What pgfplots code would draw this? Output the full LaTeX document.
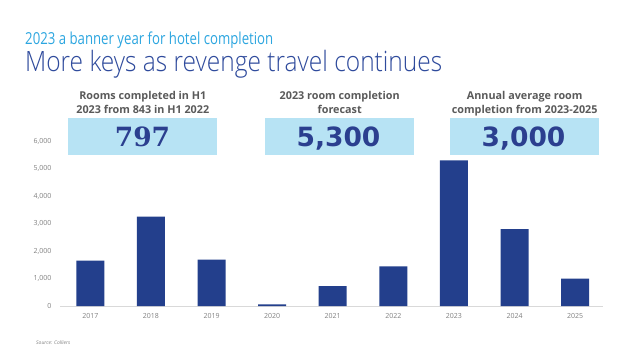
\documentclass[border=0pt]{standalone}
\usepackage{fontspec}
\setmainfont{Open Sans}
\newfontfamily\serifnum{DejaVu Serif}
\newfontfamily\sansnum{DejaVu Sans}
\newfontfamily\titlefont{Open Sans Light}[FakeStretch=0.875]
\newfontfamily\subfont{Open Sans}[FakeStretch=0.8]
\usepackage{pgfplots}
\pgfplotsset{compat=1.18}
\definecolor{barblue}{HTML}{233F8C}
\definecolor{numblue}{HTML}{2B3F8F}
\definecolor{boxblue}{HTML}{B7E3F4}
\definecolor{titlelight}{HTML}{2CA6E0}
\definecolor{titledark}{HTML}{2E4A9C}
\definecolor{labgray}{HTML}{5A5A5A}
\definecolor{tickgray}{HTML}{808080}
\begin{document}
\begin{tikzpicture}[x=1pt,y=1pt]
\path[use as bounding box, fill=white] (0,0) rectangle (640,360);
\begin{axis}[
  at={(60pt,54pt)}, anchor=south west,
  scale only axis, width=543pt, height=165pt,
  xmin=-0.5, xmax=8.46, ymin=0, ymax=6000,
  axis lines*=left,
  y axis line style={draw=none},
  x axis line style={draw=gray!30, line width=0.8pt},
  tick style={draw=none},
  major tick length=0pt,
  ytick={0,1000,2000,3000,4000,5000,6000},
  scaled y ticks=false,
  /pgf/number format/assume math mode=true,
  /pgf/number format/1000 sep={,},
  yticklabel style={font=\fontsize{7}{8}\selectfont, text=tickgray, xshift=-5pt},
  xtick=data,
  xticklabels={2017,2018,2019,2020,2021,2022,2023,2024,2025},
  xticklabel style={font=\fontsize{7}{8}\selectfont, text=tickgray, yshift=-4pt},
  ybar, bar width=28pt,
  clip=false,
]
\addplot[fill=barblue, draw=none] coordinates {
  (0,1650) (1,3250) (2,1690) (3,60) (4,720) (5,1440) (6,5300) (7,2800) (8,1000)
};
\end{axis}
% titles
\node[anchor=base west, inner sep=0, text=titlelight, font=\subfont\fontsize{16.5}{19}\selectfont] at (25,316) {2023 a banner year for hotel completion};
\node[anchor=base west, inner sep=0, text=titledark, font=\titlefont\fontsize{28}{32}\selectfont] at (25,288.5) {More keys as revenge travel continues};
% boxes
\fill[boxblue] (68.3,205) rectangle (217.3,242.3);
\fill[boxblue] (265,205) rectangle (414.3,242.3);
\fill[boxblue] (450,205) rectangle (599.3,242.3);
\node[anchor=base, inner sep=0, text=numblue, font=\serifnum\bfseries\fontsize{26.5}{29}\selectfont] at (142.5,213.3) {797};
\node[anchor=base, inner sep=0, text=numblue, font=\sansnum\bfseries\fontsize{26.5}{29}\selectfont] at (338.5,213.3) {5,300};
\node[anchor=base, inner sep=0, text=numblue, font=\sansnum\bfseries\fontsize{26.5}{29}\selectfont] at (523.5,213.3) {3,000};
% headers
\tikzset{hdr/.style={anchor=base, inner sep=0, text=labgray, font=\bfseries\fontsize{10.8}{12}\selectfont}}
\node[hdr] at (142.8,261) {Rooms completed in H1};
\node[hdr] at (142.8,246.7) {2023 from 843 in H1 2022};
\node[hdr] at (339.7,261) {2023 room completion};
\node[hdr] at (339.7,246.7) {forecast};
\node[hdr] at (524.7,261) {Annual average room};
\node[hdr] at (524.7,246.7) {completion from 2023-2025};
% source
\node[anchor=base west, inner sep=0, text=tickgray, font=\itshape\fontsize{5}{6}\selectfont] at (36,16) {Source: Colliers};
\end{tikzpicture}
\end{document}
